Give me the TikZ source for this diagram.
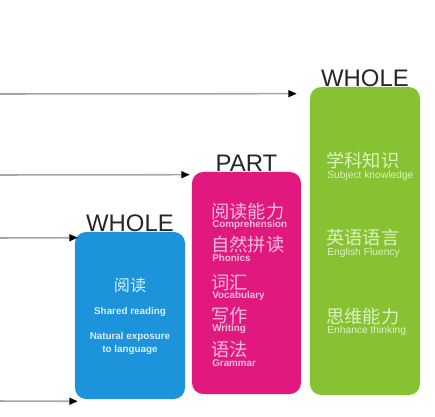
\documentclass[tikz,border=0pt]{standalone}
\usepackage{fontspec}
\setmainfont{Liberation Sans}
\newfontfamily\cjk{Noto Sans CJK SC}
\usetikzlibrary{calc,arrows.meta}
\definecolor{boxblue}{HTML}{1C93DB}
\definecolor{boxpink}{HTML}{E1187E}
\definecolor{boxgreen}{HTML}{86C232}
\definecolor{txtblue}{HTML}{D8EEFB}
\definecolor{txtpink}{HTML}{F7BDDD}
\definecolor{txtgreen}{HTML}{DDF1C0}
\tikzset{
	bar/.style={rounded corners=8pt, inner sep=0pt},
	headline/.style={anchor=base, inner sep=0pt, text=black!85, font=\fontsize{17}{17}\selectfont},
	feed/.style={draw=black!35, line width=1.1pt, -{Triangle[length=6pt, width=5pt, color=black]}},
	zh/.style={inner sep=0pt, font=\cjk\fontsize{13}{13}\selectfont},
	en/.style={inner sep=0pt, font=\fontsize{7}{9.3}\selectfont},
}

\begin{document}
\begin{tikzpicture}[x=0.025cm, y=-0.025cm]
		%%%%% START %%%%%
		\useasboundingbox (0, 0) rectangle (435, 416);
		
		% the three bars
		\node[bar, fill=boxblue, minimum width=2.75cm, minimum height=4.175cm] (read) at (130, 315.5) {};
		\node[bar, fill=boxpink, minimum width=2.725cm, minimum height=5.55cm] (skill) at (246.5, 283) {};
		\node[bar, fill=boxgreen, minimum width=2.75cm, minimum height=7.7cm] (know) at (365, 241) {};
		
		\node[headline] (readhead) at ([yshift=0.3pt]read.north) {WHOLE};
		\node[headline] (skillhead) at ([yshift=0.3pt]skill.north) {PART};
		\node[headline] (knowhead) at ([yshift=0.3pt]know.north) {WHOLE};
		
		% arrows from the left
		\coordinate (s1) at (0, 94);
		\coordinate (s2) at (0, 175);
		\coordinate (s3) at (0, 238);
		\coordinate (s4) at (0, 401);
		\draw[feed] (s1) -- ($(know.north west)+(-13, 7)$);
		\draw[feed] (s2) -- ($(skill.north west)+(-2, 3)$);
		\draw[feed] (s3) -- ($(read.north west)+(3, 6)$);
		\draw[feed] (s4) -- ($(read.south west)+(3, 2)$);
		
		% blue bar
		\node[zh, text=txtblue, font=\cjk\fontsize{11.5}{11.5}\selectfont] (rd1) at (130, 285) {阅读};
		\node[en, text=txtblue, font=\bfseries\fontsize{7}{9.3}\selectfont] (rd2) at (130, 312) {Shared reading};
		\node[en, text=txtblue, font=\bfseries\fontsize{7}{9.3}\selectfont, align=center] (rd3) at (130, 343.5) {Natural exposure\\to language};
		
		% pink bar
		\node[zh, text=txtpink, anchor=west] (pk1) at (211, 212) {阅读能力};
		\node[en, text=txtpink, anchor=west, font=\bfseries\fontsize{7}{9.3}\selectfont] (pk1e) at (212, 224.5) {Comprehension};
		\node[zh, text=txtpink, anchor=west] (pk2) at (211, 245) {自然拼读};
		\node[en, text=txtpink, anchor=west, font=\bfseries\fontsize{7}{9.3}\selectfont] (pk2e) at (212, 258) {Phonics};
		\node[zh, text=txtpink, anchor=west] (pk3) at (211, 283) {词汇};
		\node[en, text=txtpink, anchor=west, font=\bfseries\fontsize{7}{9.3}\selectfont] (pk3e) at (212, 296) {Vocabulary};
		\node[zh, text=txtpink, anchor=west] (pk4) at (211, 316) {写作};
		\node[en, text=txtpink, anchor=west, font=\bfseries\fontsize{7}{9.3}\selectfont] (pk4e) at (212, 329) {Writing};
		\node[zh, text=txtpink, anchor=west] (pk5) at (211, 350) {语法};
		\node[en, text=txtpink, anchor=west, font=\bfseries\fontsize{7}{9.3}\selectfont] (pk5e) at (212, 363) {Grammar};
		
		% green bar
		\node[zh, text=txtgreen, anchor=west] (gr1) at (326, 160) {学科知识};
		\node[en, text=txtgreen, anchor=west, font=\fontsize{7.3}{9.3}\selectfont] (gr1e) at (327, 176) {Subject knowledge};
		\node[zh, text=txtgreen, anchor=west] (gr2) at (326, 238) {英语语言};
		\node[en, text=txtgreen, anchor=west, font=\fontsize{7.3}{9.3}\selectfont] (gr2e) at (327, 253) {English Fluency};
		\node[zh, text=txtgreen, anchor=west] (gr3) at (326, 317) {思维能力};
		\node[en, text=txtgreen, anchor=west, font=\fontsize{7.3}{9.3}\selectfont] (gr3e) at (327, 331) {Enhance thinking};
		
		%%%%% END %%%%%
	\end{tikzpicture}
\end{document}
